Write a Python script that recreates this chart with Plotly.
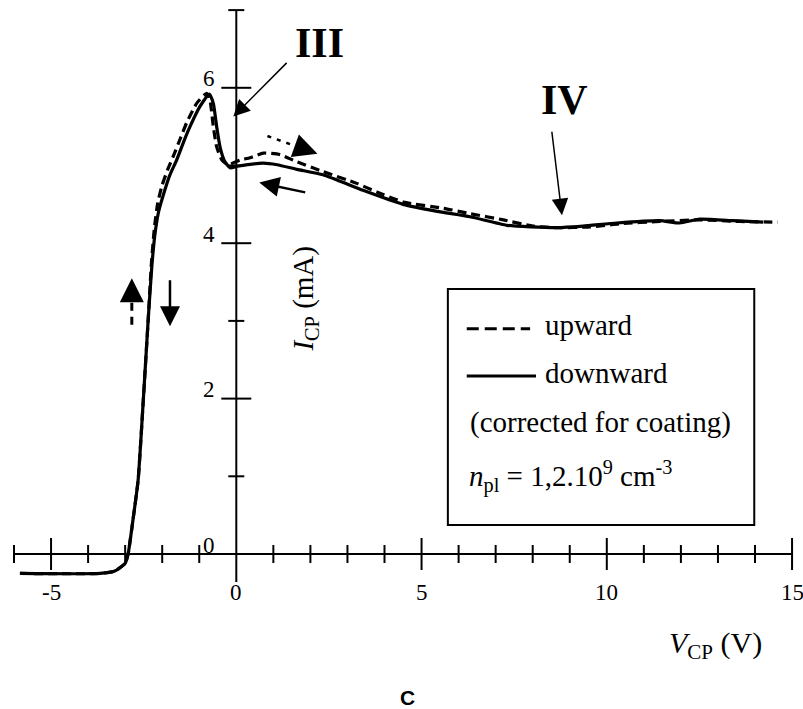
import plotly.graph_objects as go

# ---------------- data ----------------
down_v = [-5.84, -3.68, -3.28, -3.00, -2.92, -2.80, -2.65, -2.51, -2.38, -2.28, -2.20, -2.10,
          -1.97, -1.80, -1.61, -1.40, -1.25, -0.98, -0.73, -0.62, -0.53, -0.44, -0.31, -0.17,
          0.03, 0.72, 1.10, 1.64, 2.34, 3.42, 4.50, 5.42, 6.31, 7.31, 7.95, 8.65, 9.36,
          10.27, 11.43, 11.97, 12.51, 13.41, 14.22]
down_i = [-0.25, -0.25, -0.22, -0.12, 0.00, 0.40, 0.95, 1.98, 3.00, 3.70, 4.10, 4.40,
          4.62, 4.87, 5.07, 5.33, 5.50, 5.76, 5.92, 5.80, 5.50, 5.24, 5.05, 4.97,
          4.99, 5.03, 5.01, 4.95, 4.88, 4.68, 4.50, 4.41, 4.34, 4.23, 4.21, 4.20, 4.22,
          4.26, 4.29, 4.26, 4.31, 4.29, 4.27]

up_v = [-5.84, -3.68, -3.28, -3.00, -2.92, -2.80, -2.65, -2.51, -2.38, -2.29, -2.21, -2.12,
        -2.00, -1.85, -1.70, -1.50, -1.34, -1.07, -0.80, -0.71, -0.62, -0.53, -0.39, -0.22,
        0.10, 0.37, 0.73, 1.18, 1.63, 2.35, 3.25, 3.79, 4.51, 5.59, 6.31, 7.21, 8.01,
        8.66, 9.55, 10.35, 11.43, 12.51, 13.59, 14.62]
up_i = [-0.25, -0.25, -0.22, -0.12, 0.00, 0.40, 0.95, 1.98, 3.00, 3.75, 4.20, 4.52,
        4.75, 4.95, 5.12, 5.36, 5.55, 5.80, 5.93, 5.84, 5.50, 5.24, 5.07, 5.01,
        5.07, 5.10, 5.16, 5.14, 5.05, 4.92, 4.77, 4.66, 4.53, 4.45, 4.38, 4.30, 4.22,
        4.20, 4.21, 4.25, 4.28, 4.30, 4.28, 4.27]

x_major = [-5, 5, 10, 15]
x_minor = [-6, -4, -3, -2, -1, 1, 2, 3, 4, 6, 7, 8, 9, 11, 12, 13, 14]
x_labels = [-5, 0, 5, 10, 15]
y_major = [2, 4, 6]
y_minor = [1, 3, 5, 7]
y_labels = [0, 2, 4, 6]

X_MIN, X_MAX = -6, 15
Y_AX_MIN, Y_AX_MAX = -0.36, 7.0

SERIF = "Liberation Serif"
BLACK = "black"

fig = go.Figure()

fig.add_trace(go.Scatter(x=down_v, y=down_i, mode="lines",
                         line=dict(color=BLACK, width=3.2, shape="spline", smoothing=0.5),
                         showlegend=False, hoverinfo="skip"))
fig.add_trace(go.Scatter(x=up_v, y=up_i, mode="lines",
                         line=dict(color=BLACK, width=3.2, dash="9px,5px", shape="spline", smoothing=0.5),
                         showlegend=False, hoverinfo="skip"))

shapes = []
# axes lines
shapes.append(dict(type="line", xref="x", yref="y", x0=X_MIN, x1=X_MAX, y0=0, y1=0,
                   line=dict(color=BLACK, width=2)))
shapes.append(dict(type="line", xref="x", yref="y", x0=0, x1=0, y0=Y_AX_MIN, y1=Y_AX_MAX,
                   line=dict(color=BLACK, width=2)))
for v in x_major:
    shapes.append(dict(type="line", xref="x", yref="y", ysizemode="pixel", yanchor=0,
                       x0=v, x1=v, y0=-16, y1=16, line=dict(color=BLACK, width=2)))
for v in x_minor:
    shapes.append(dict(type="line", xref="x", yref="y", ysizemode="pixel", yanchor=0,
                       x0=v, x1=v, y0=-9, y1=9, line=dict(color=BLACK, width=2)))
for v in y_major:
    shapes.append(dict(type="line", xref="x", yref="y", xsizemode="pixel", xanchor=0,
                       y0=v, y1=v, x0=-15, x1=15, line=dict(color=BLACK, width=2)))
for v in y_minor:
    shapes.append(dict(type="line", xref="x", yref="y", xsizemode="pixel", xanchor=0,
                       y0=v, y1=v, x0=-8, x1=8, line=dict(color=BLACK, width=2)))

# legend box
shapes.append(dict(type="rect", xref="x", yref="y", x0=5.71, x1=13.98, y0=0.373, y1=3.41,
                   line=dict(color=BLACK, width=2)))
fig.update_layout(shapes=shapes)

# legend sample lines
fig.add_trace(go.Scatter(x=[6.22, 7.93], y=[2.90, 2.90], mode="lines",
                         line=dict(color=BLACK, width=3, dash="12px,6px"),
                         showlegend=False, hoverinfo="skip"))
fig.add_trace(go.Scatter(x=[6.22, 8.09], y=[2.29, 2.29], mode="lines",
                         line=dict(color=BLACK, width=3),
                         showlegend=False, hoverinfo="skip"))

# dashed / dotted arrow shafts
fig.add_trace(go.Scatter(x=[0.84, 1.95], y=[5.38, 5.19], mode="lines",
                         line=dict(color=BLACK, width=2.5, dash="4px,6px"),
                         showlegend=False, hoverinfo="skip"))
fig.add_trace(go.Scatter(x=[-2.82, -2.82], y=[2.95, 3.35], mode="lines",
                         line=dict(color=BLACK, width=3, dash="8px,6px"),
                         showlegend=False, hoverinfo="skip"))

ann = []
for v in y_labels:
    ann.append(dict(x=0, y=v, xref="x", yref="y", text=str(v), showarrow=False,
                    xshift=-27, yshift=9, font=dict(family=SERIF, size=23, color=BLACK)))
for v in x_labels:
    ann.append(dict(x=v, y=0, xref="x", yref="y", text=str(v), showarrow=False,
                    yshift=-38, font=dict(family=SERIF, size=23, color=BLACK)))

# roman numeral labels with arrows
ann.append(dict(x=2.24, y=6.58, xref="x", yref="y", text="<b>III</b>", showarrow=False,
                font=dict(family=SERIF, size=42, color=BLACK)))
ann.append(dict(x=-0.08, y=5.63, ax=1.40, ay=6.34, xref="x", yref="y", axref="x", ayref="y",
                text=" ", showarrow=True, arrowhead=2, arrowsize=2.2, arrowwidth=1.5,
                arrowcolor=BLACK, standoff=0, font=dict(size=1)))
ann.append(dict(x=8.85, y=5.84, xref="x", yref="y", text="<b>IV</b>", showarrow=False,
                font=dict(family=SERIF, size=42, color=BLACK)))
ann.append(dict(x=8.79, y=4.36, ax=8.51, ay=5.46, xref="x", yref="y", axref="x", ayref="y",
                text=" ", showarrow=True, arrowhead=2, arrowsize=2.2, arrowwidth=1.5,
                arrowcolor=BLACK, standoff=0, font=dict(size=1)))

# small direction arrows
ann.append(dict(x=2.19, y=5.15, ax=-14, ay=-5, xref="x", yref="y",
                text=" ", showarrow=True, arrowhead=2, arrowsize=1.6, arrowwidth=3,
                arrowcolor=BLACK, standoff=0, font=dict(size=1)))
ann.append(dict(x=0.62, y=4.78, ax=1.90, ay=4.65, xref="x", yref="y", axref="x", ayref="y",
                text=" ", showarrow=True, arrowhead=2, arrowsize=1.6, arrowwidth=2.5,
                arrowcolor=BLACK, standoff=0, font=dict(size=1)))
ann.append(dict(x=-2.82, y=3.55, ax=0, ay=16, xref="x", yref="y",
                text=" ", showarrow=True, arrowhead=2, arrowsize=1.6, arrowwidth=3,
                arrowcolor=BLACK, standoff=0, font=dict(size=1)))
ann.append(dict(x=-1.79, y=2.93, ax=-1.79, ay=3.55, xref="x", yref="y", axref="x", ayref="y",
                text=" ", showarrow=True, arrowhead=2, arrowsize=1.6, arrowwidth=2.5,
                arrowcolor=BLACK, standoff=0, font=dict(size=1)))

# legend texts
ann.append(dict(x=8.29, y=2.95, xref="x", yref="y", text="upward", showarrow=False,
                xanchor="left", font=dict(family=SERIF, size=29, color=BLACK)))
ann.append(dict(x=8.29, y=2.33, xref="x", yref="y", text="downward", showarrow=False,
                xanchor="left", font=dict(family=SERIF, size=29, color=BLACK)))
ann.append(dict(x=6.26, y=1.69, xref="x", yref="y", text="(corrected for coating)",
                showarrow=False, xanchor="left", font=dict(family=SERIF, size=29, color=BLACK)))
ann.append(dict(x=6.22, y=1.00, xref="x", yref="y",
                text="<i>n</i><sub>pl</sub> = 1,2.10<sup>9</sup> cm<sup>-3</sup>",
                showarrow=False, xanchor="left", font=dict(family=SERIF, size=29, color=BLACK)))

# axis titles
ann.append(dict(x=1.86, y=3.29, xref="x", yref="y", text="<i>I</i><sub>CP</sub> (mA)",
                showarrow=False, textangle=-90, font=dict(family=SERIF, size=29, color=BLACK)))
ann.append(dict(x=11.63, y=-1.17, xref="x", yref="y", text="<i>V</i><sub>CP</sub> (V)",
                showarrow=False, xanchor="left", font=dict(family=SERIF, size=30, color=BLACK)))

# panel letter
ann.append(dict(x=0.5075, y=0.016, xref="paper", yref="paper", text="<b>C</b>",
                showarrow=False, yanchor="middle",
                font=dict(family="Liberation Sans", size=21, color=BLACK)))

fig.update_layout(
    annotations=ann,
    width=803, height=709, autosize=False,
    margin=dict(l=0, r=0, t=0, b=0),
    paper_bgcolor="white", plot_bgcolor="white",
    xaxis=dict(range=[-236.3 / 37.05, (803 - 236.3) / 37.05], visible=False, fixedrange=True),
    yaxis=dict(range=[(554 - 709) / 77.7, 554 / 77.7], visible=False, fixedrange=True),
    showlegend=False,
)

fig.write_html("out.html")
